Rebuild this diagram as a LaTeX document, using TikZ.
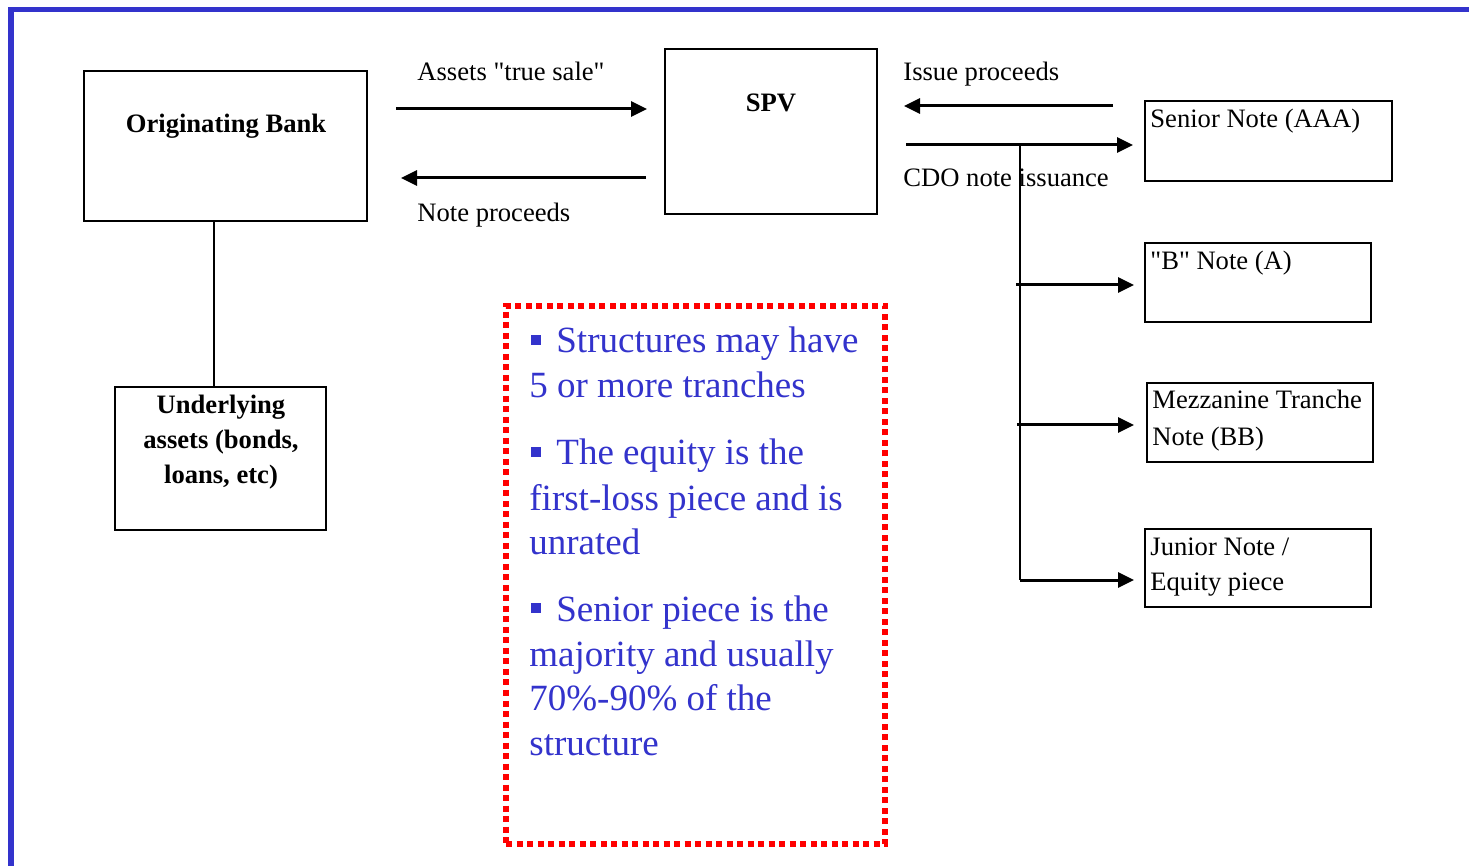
\documentclass[tikz,border=0pt]{standalone}
\usepackage{fontspec}
\setmainfont{Liberation Serif}
\usetikzlibrary{arrows.meta}
\definecolor{frameblue}{RGB}{51,51,204}
\definecolor{txtblue}{RGB}{51,51,204}
\definecolor{dotred}{RGB}{255,0,0}
\begin{document}
\begin{tikzpicture}[x=0.5pt,y=-0.5pt,
  box/.style 2 args={draw, line width=1pt, inner sep=0pt, outer sep=0pt, anchor=north west,
    minimum width=#1*0.5pt, minimum height=#2*0.5pt},
  lbl/.style={anchor=base west, inner sep=0pt, font=\fontsize{13.3}{16}\selectfont},
  lblb/.style={anchor=base, inner sep=0pt, font=\fontsize{13.3}{16}\selectfont\bfseries},
  blu/.style={anchor=base west, inner sep=0pt, text=txtblue, font=\fontsize{18.5}{22}\selectfont},
  flow/.style={line width=1.5pt, -{Triangle[length=8pt,width=7.5pt]}},
  link/.style={line width=1pt},
  bul/.style={fill=txtblue}]
\useasboundingbox (0,0) rectangle (1469,866);
\clip (0,0) rectangle (1469,866);
\fill[white] (0,0) rectangle (1469,866);
% frame
\draw[frameblue, line width=2.75pt, line join=miter] (11,900) -- (11,9.5) -- (1500,9.5);

% boxes
\node[box={283}{150}] (orig) at (84,71) {};
\node[box={211}{143}] (und) at (115,387) {};
\node[box={212}{165}] (spv) at (665,49) {};
\node[box={247}{80}] (sen) at (1145,101) {};
\node[box={226}{79}] (bnote) at (1145,243) {};
\node[box={226}{79}] (mezz) at (1147,383) {};
\node[box={226}{78}] (jun) at (1145,529) {};

% box texts
\node[lblb] (torig) at (226,133) {Originating Bank};
\node[lblb] (tspv) at (771,112) {SPV};
\node[lblb] (tund1) at (221,414) {Underlying};
\node[lblb] (tund2) at (221,449) {assets (bonds,};
\node[lblb] (tund3) at (221,484) {loans, etc)};
\node[lbl] (tsen) at (1150,128) {Senior Note (AAA)};
\node[lbl] (tb) at (1150,270) {\textquotedbl B\textquotedbl\ Note (A)};
\node[lbl] (tmz1) at (1152,409) {Mezzanine Tranche};
\node[lbl] (tmz2) at (1152,445) {Note (BB)};
\node[lbl] (tjn1) at (1150,555) {Junior Note /};
\node[lbl] (tjn2) at (1150,590) {Equity piece};

% arrow labels
\node[lbl] (ltrue) at (417,81) {Assets \textquotedbl true sale\textquotedbl};
\node[lbl] (lnote) at (417,222) {Note proceeds};
\node[lbl] (lissue) at (903,81) {Issue proceeds};
\node[lbl] (lcdo) at (903,187) {CDO note issuance};

% arrow end points
\coordinate (a1s) at (396,109);  \coordinate (a1e) at (647,109);
\coordinate (a2s) at (646,178);  \coordinate (a2e) at (401,178);
\coordinate (a3s) at (1113,106); \coordinate (a3e) at (904,106);
\coordinate (a4s) at (906,145);  \coordinate (a4e) at (1133,145);
\coordinate (br0) at (1020,145); \coordinate (br3) at (1020,580);
\coordinate (b1s) at (1016,285); \coordinate (b1e) at (1134,285);
\coordinate (b2s) at (1017,425); \coordinate (b2e) at (1134,425);
\coordinate (b3e) at (1134,580);
\coordinate (vx) at (214,0);

\draw[flow] (a1s) -- (a1e);
\draw[flow] (a2s) -- (a2e);
\draw[flow] (a3s) -- (a3e);
\draw[flow] (a4s) -- (a4e);
\draw[link] (br0) -- (br3);
\draw[flow] (b1s) -- (b1e);
\draw[flow] (b2s) -- (b2e);
\draw[flow] (br3) -- (b3e);
\draw[link] (orig.south -| vx) -- (und.north -| vx);

% red dotted box
\node[box={379}{538}, draw=dotred, line width=3pt, dash pattern=on 3pt off 2.25pt] (notes) at (506,306) {};

% bullets
\fill[bul] (531,335) rectangle (541,345);
\fill[bul] (531,447) rectangle (541,457);
\fill[bul] (531,603) rectangle (541,613);
\node[blu] (p1a) at (556,353) {Structures may have};
\node[blu] (p1b) at (529,398) {5 or more tranches};
\node[blu] (p2a) at (556,465) {The equity is the};
\node[blu] (p2b) at (529,510) {first-loss piece and is};
\node[blu] (p2c) at (529,554) {unrated};
\node[blu] (p3a) at (556,621) {Senior piece is the};
\node[blu] (p3b) at (529,666) {majority and usually};
\node[blu] (p3c) at (529,710) {70\%-90\% of the};
\node[blu] (p3d) at (529,755) {structure};
\end{tikzpicture}
\end{document}
